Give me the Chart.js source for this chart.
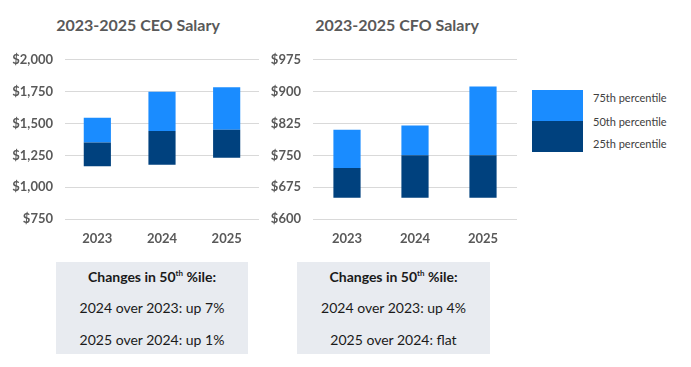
<!DOCTYPE html>
<html>
<head>
<meta charset="utf-8">
<script src="https://cdn.jsdelivr.net/npm/chart.js@4.4.1/dist/chart.umd.min.js"></script>
<style>
  body { margin: 0; width: 691px; height: 367px; background: #fff; position: relative; overflow: hidden; font-family: Lato, sans-serif; }
  .title { position: absolute; top: 15px; font: bold 16px Lato, sans-serif; color: #595959; transform: translateX(-50%); white-space: nowrap; }
  canvas { position: absolute; }
  .box { position: absolute; top: 262px; height: 92px; background: #e8ebf0; color: #1a1a1a; font-size: 14px; text-align: center; }
  .box div { position: absolute; left: 0; right: 0; }
  .box sup { font-size: 8px; }
  .legend-swatch { position: absolute; left: 532px; width: 51px; }
  .legend-label { position: absolute; left: 593px; font-size: 11px; color: #404040; white-space: nowrap; }
</style>
</head>
<body>
<div class="title" style="left:138px">2023-2025 CEO Salary</div>
<div class="title" style="left:397px">2023-2025 CFO Salary</div>
<canvas id="ceoChart" width="262" height="210" style="left:0;top:40px"></canvas>
<canvas id="cfoChart" width="270" height="210" style="left:250px;top:40px"></canvas>

<div class="legend-swatch" style="top:90px;height:31px;background:#1a8cff"></div>
<div class="legend-swatch" style="top:121px;height:31px;background:#00417e"></div>
<div class="legend-label" id="lg0" style="top:91px"></div>
<div class="legend-label" id="lg1" style="top:115px"></div>
<div class="legend-label" id="lg2" style="top:137px"></div>

<div class="box" id="ceoBox" style="left:56px;width:192px"></div>
<div class="box" id="cfoBox" style="left:297px;width:193px"></div>

<script>
const years = ['2023', '2024', '2025'];

// CEO salary percentiles ($ thousands)
const ceoP25 = [1165, 1175, 1230];
const ceoP50 = [1350, 1440, 1450];
const ceoP75 = [1545, 1750, 1785];
const ceoTicks = [750, 1000, 1250, 1500, 1750, 2000];

// CFO salary percentiles
const cfoP25 = [650, 650, 650];
const cfoP50 = [720, 750, 750];
const cfoP75 = [810, 820, 912];
const cfoTicks = [600, 675, 750, 825, 900, 975];

const legendLabels = ['75th percentile', '50th percentile', '25th percentile'];
const ceoNotes = ['2024 over 2023: up 7%', '2025 over 2024: up 1%'];
const cfoNotes = ['2024 over 2023: up 4%', '2025 over 2024: flat'];

const light = '#1a8cff';
const dark = '#00417e';
const gray = '#595959';

function makeChart(id, p25, p50, p75, ticks, axisWidth, barPct) {
    new Chart(document.getElementById(id), {
        type: 'bar',
        data: {
            labels: years,
            datasets: [
                { label: '25th-50th', data: p25.map((v, i) => [v, p50[i]]), backgroundColor: dark, grouped: false },
                { label: '50th-75th', data: p50.map((v, i) => [v, p75[i]]), backgroundColor: light, grouped: false }
            ]
        },
        options: {
            responsive: false,
            animation: false,
            events: [],
            layout: { padding: { top: 12, right: 3, left: 0, bottom: 0 } },
            datasets: { bar: { categoryPercentage: 1, barPercentage: barPct } },
            plugins: { legend: { display: false }, tooltip: { enabled: false } },
            scales: {
                x: {
                    grid: { display: false },
                    border: { display: false },
                    ticks: { color: gray, font: { family: 'Lato', weight: 'bold', size: 13 }, padding: 4 },
                    afterFit: s => { s.height = 31; }
                },
                y: {
                    min: ticks[0],
                    max: ticks[ticks.length - 1],
                    afterBuildTicks: s => { s.ticks = ticks.map(v => ({ value: v })); },
                    grid: { color: '#d9d9d9', drawTicks: false },
                    border: { display: false },
                    ticks: {
                        color: gray,
                        font: { family: 'Lato', weight: 'bold', size: 13 },
                        padding: 12,
                        callback: v => '$' + v.toLocaleString('en-US')
                    },
                    afterFit: s => { s.width = axisWidth; }
                }
            }
        }
    });
}

makeChart('ceoChart', ceoP25, ceoP50, ceoP75, ceoTicks, 65, 0.42);
makeChart('cfoChart', cfoP25, cfoP50, cfoP75, cfoTicks, 63, 0.40);

legendLabels.forEach((t, i) => { document.getElementById('lg' + i).textContent = t; });

function fillBox(id, notes) {
    const box = document.getElementById(id);
    box.innerHTML = '<div style="top:6px;font-weight:bold">Changes in 50<sup>th</sup> %ile:</div>' +
        notes.map((n, i) => '<div style="top:' + (37 + i * 32) + 'px"></div>').join('');
    const rows = box.querySelectorAll('div');
    notes.forEach((n, i) => { rows[i + 1].textContent = n; });
}
fillBox('ceoBox', ceoNotes);
fillBox('cfoBox', cfoNotes);
</script>
</body>
</html>
